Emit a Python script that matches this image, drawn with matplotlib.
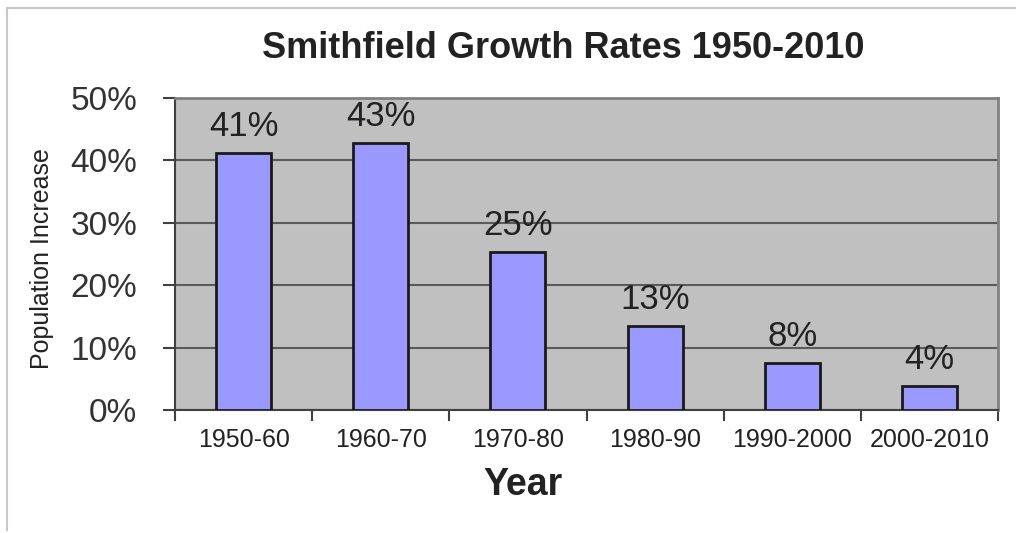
import matplotlib
matplotlib.use("Agg")
import matplotlib.pyplot as plt
from matplotlib.lines import Line2D

plt.rcParams['font.family'] = ['Liberation Sans', 'DejaVu Sans']

# data
periods = ["1950-60", "1960-70", "1970-80", "1980-90", "1990-2000", "2000-2010"]
growth = [41.2, 42.8, 25.3, 13.5, 7.6, 3.8]
labels = ["41%", "43%", "25%", "13%", "8%", "4%"]
yticks = [0, 10, 20, 30, 40, 50]

fig = plt.figure(figsize=(10.16, 5.33), dpi=100)
fig.patch.set_facecolor("white")
ax = fig.add_axes([175/1016, 1-410/533, 823/1016, 312/533])
ax.set_facecolor("#c0c0c0")

x = list(range(len(periods)))
ax.bar(x, growth, width=0.4, color="#9999ff", edgecolor="#1a1a1a", linewidth=2, zorder=3)
for xi, v, lab in zip(x, growth, labels):
    ax.text(xi, v + 1.6, lab, ha="center", va="bottom", fontsize=25, color="#222222", zorder=4)

ax.set_xlim(-0.5, len(periods) - 0.5)
ax.set_ylim(0, 50)
ax.set_yticks(yticks)
ax.set_yticklabels([f"{t}%" for t in yticks], fontsize=24, color="#333333")
ax.yaxis.grid(True, color="#5a5a5a", linewidth=1.5, zorder=1)
ax.tick_params(axis="y", length=9, width=1.5, color="#404040", pad=18)

ax.set_xticks([i - 0.5 for i in range(len(periods) + 1)])
ax.set_xticklabels([])
ax.set_xticks(x, minor=True)
ax.set_xticklabels(periods, minor=True, fontsize=18, color="#222222")
ax.tick_params(axis="x", which="major", length=8, width=1.5, color="#404040")
ax.tick_params(axis="x", which="minor", length=0, pad=13)

for side in ["top", "right"]:
    ax.spines[side].set_color("#808080")
    ax.spines[side].set_linewidth(2)
for side in ["left", "bottom"]:
    ax.spines[side].set_color("#404040")
    ax.spines[side].set_linewidth(1.5)

ax.set_ylabel("Population Increase", fontsize=18, color="#222222")
ax.yaxis.set_label_coords((54 - 175) / 823, (410 - 259) / 312)
fig.text(523/1016, 1-485/533, "Year", ha="center", va="center",
         fontsize=27, fontweight="bold", color="#222222")
fig.text(563/1016, 1-48/533, "Smithfield Growth Rates 1950-2010", ha="center", va="center",
         fontsize=26, fontweight="bold", color="#222222")

# light frame around the chart
fig.add_artist(Line2D([7/1016, 1], [1-8/533, 1-8/533], color="#c8c8c8", linewidth=1.5))
fig.add_artist(Line2D([7/1016, 7/1016], [1-8/533, 1-530/533], color="#c8c8c8", linewidth=1.5))

fig.savefig("out.png", dpi=100, facecolor="white")
